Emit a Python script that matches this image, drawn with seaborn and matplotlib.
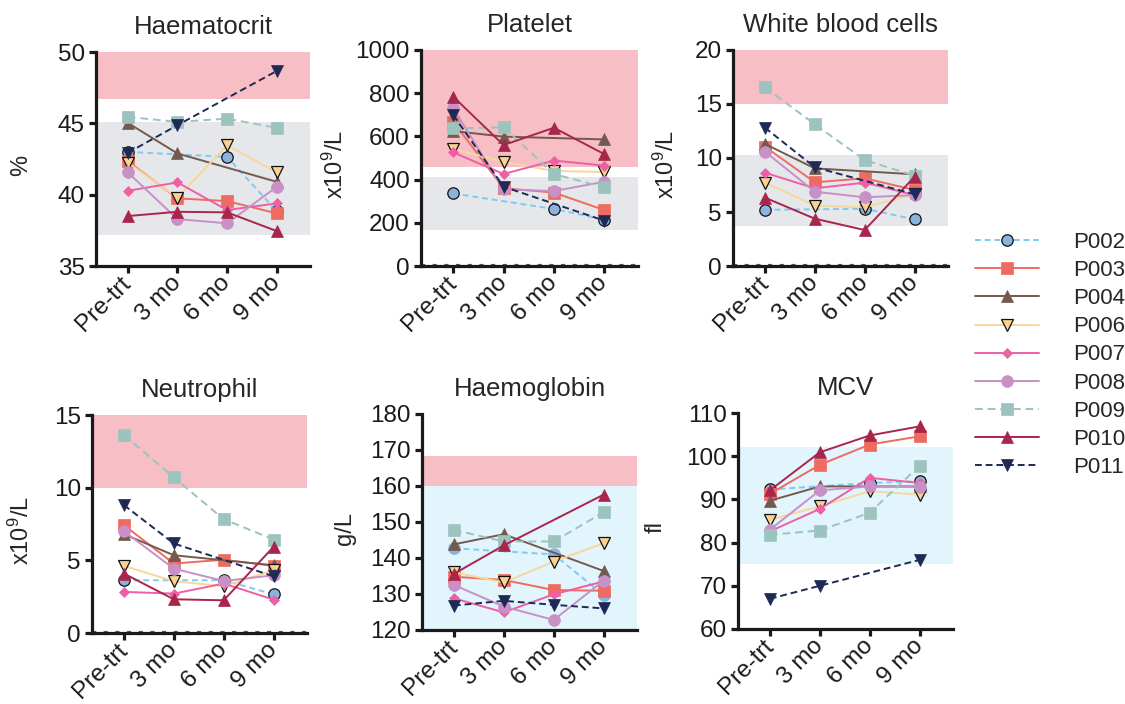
import numpy as np
import pandas as pd
import matplotlib
matplotlib.use("Agg")
import matplotlib.pyplot as plt
import seaborn as sns

nan = np.nan

timepoints = ["Pre-trt", "3 mo", "6 mo", "9 mo"]
patients = ["P002", "P003", "P004", "P006", "P007", "P008", "P009", "P010", "P011"]

# values per patient (rows follow `patients`), columns follow `timepoints`
haematocrit = [
    [43.0, nan, 42.65, 38.85],
    [42.35, 39.74, 39.55, 38.69],
    [45.03, 42.89, nan, 40.9],
    [42.25, 39.8, 43.47, 41.56],
    [40.27, 40.86, 38.92, 39.39],
    [41.56, 38.29, 37.99, 40.55],
    [45.45, 45.1, 45.33, 44.68],
    [38.5, 38.8, 38.76, 37.45],
    [42.93, 44.87, nan, 48.67],
]
platelet = [
    [336, nan, 264, 215],
    [668, 360, 340, 259],
    [625, 599, nan, 586],
    [542, 483, 440, 435],
    [526, 426, 488, 465],
    [730, 355, 347, 390],
    [637, 642, 426, 364],
    [784, 560, 640, 518],
    [699, 367, nan, 210],
]
white_blood_cells = [
    [5.2, nan, 5.3, 4.32],
    [11.05, 7.75, 8.12, 7.04],
    [11.3, 9.04, nan, 8.49],
    [7.72, 5.59, 5.43, 6.64],
    [8.64, 7.19, 7.72, 6.57],
    [10.59, 6.88, 6.36, 6.57],
    [16.54, 13.12, 9.81, 8.36],
    [6.33, 4.38, 3.33, 8.27],
    [12.81, 9.14, nan, 6.64],
]
neutrophil = [
    [3.63, nan, 3.63, 2.66],
    [7.42, 4.78, 5.04, 4.62],
    [6.8, 5.35, nan, 4.66],
    [4.62, 3.56, 3.22, 4.32],
    [2.83, 2.71, 3.4, 2.3],
    [7.0, 4.43, 3.58, 3.97],
    [13.62, 10.71, 7.83, 6.43],
    [4.09, 2.32, 2.25, 5.93],
    [8.8, 6.16, nan, 3.9],
]
haemoglobin = [
    [142.7, nan, 141.0, 129.7],
    [134.8, 133.9, 131.1, 130.9],
    [143.8, 146.6, nan, 136.4],
    [136.0, 133.2, 139.0, 144.1],
    [128.8, 124.9, 129.9, 133.5],
    [132.5, 126.5, 122.8, 133.7],
    [147.8, 144.6, 144.6, 152.7],
    [135.6, 143.5, nan, 157.6],
    [126.8, 128.1, 127.0, 126.0],
]
mcv = [
    [92.3, nan, 93.8, 94.2],
    [91.3, 98.0, 102.7, 104.6],
    [89.7, 93.0, nan, 93.0],
    [85.3, 88.4, 91.9, 91.1],
    [82.6, 87.8, 95.0, 93.8],
    [83.0, 92.1, 93.0, 92.9],
    [81.8, 82.8, 86.9, 97.8],
    [92.1, 100.9, 104.8, 106.9],
    [67.0, 70.0, nan, 76.0],
]

panel_titles = ["Haematocrit", "Platelet", "White blood cells",
                "Neutrophil", "Haemoglobin", "MCV"]
panel_values = [haematocrit, platelet, white_blood_cells,
                neutrophil, haemoglobin, mcv]
panel_units = ["%", r"x10$\mathregular{^9}$/L", r"x10$\mathregular{^9}$/L",
               r"x10$\mathregular{^9}$/L", "g/L", "fl"]
panel_ylims = [(35, 50), (0, 1000), (0, 20), (0, 15), (120, 180), (60, 110)]
panel_ysteps = [5, 200, 5, 5, 10, 10]
# reference ranges: (low, high, kind)
panel_bands = [
    [(46.7, 50, "high"), (37.2, 45.1, "grey")],
    [(460, 1000, "high"), (165, 410, "grey")],
    [(15, 20, "high"), (3.7, 10.3, "grey")],
    [(10, 15, "high")],
    [(160, 168.3, "high"), (120, 160, "blue")],
    [(75, 102.2, "blue")],
]

# ---- long-form table ----
rows = []
for title, vals in zip(panel_titles, panel_values):
    for pid, series in zip(patients, vals):
        for ti, v in enumerate(series):
            rows.append({"panel": title, "patient": pid, "t": ti, "value": v})
df = pd.DataFrame(rows).dropna()

# ---- styles ----
line_colors = {"P002": "#7DCBEF", "P003": "#EE6B61", "P004": "#735A4E",
               "P006": "#F8D79A", "P007": "#EE5FA4", "P008": "#C790C6",
               "P009": "#9CC3BE", "P010": "#A8254C", "P011": "#1E2A54"}
face_colors = dict(line_colors, P002="#8CB3DD", P006="#FAD393")
edge_colors = dict(line_colors, P002="#111111", P006="#111111")
markers = {"P002": "o", "P003": "s", "P004": "^", "P006": "v", "P007": "D",
           "P008": "o", "P009": "s", "P010": "^", "P011": "v"}
msizes = {"P002": 8.2, "P003": 8.5, "P004": 8.5, "P006": 8.5, "P007": 5.5,
          "P008": 8.5, "P009": 8.5, "P010": 8.5, "P011": 8.5}
dashed = {"P002": (0, (3, 2)), "P009": (0, (4, 2.5)), "P011": (0, (3.5, 2))}
band_colors = {"high": "#F7BEC6", "grey": "#E6E7EB", "blue": "#E2F4FC"}

sns.set_theme(style="ticks")
plt.rcParams["font.family"] = ["Liberation Sans", "DejaVu Sans"]
plt.rcParams["mathtext.fontset"] = "custom"
plt.rcParams["mathtext.rm"] = "Liberation Sans"
plt.rcParams["mathtext.it"] = "Liberation Sans:italic"
plt.rcParams["mathtext.bf"] = "Liberation Sans:bold"

fig = plt.figure(figsize=(11.25, 7.04), dpi=100)

W, H = 1125, 704
rects_px = [(96, 52, 310, 266), (421, 50, 638, 266), (733, 50, 948, 266),
            (92, 415, 307, 633), (422, 414, 637, 630), (738, 413, 953, 629)]
label_x = [-0.30, -0.335, -0.25, -0.27, -0.305, -0.33]

axes = []
for k, title in enumerate(panel_titles):
    l, t, r, b = rects_px[k]
    ax = fig.add_axes([l / W, 1 - b / H, (r - l) / W, (b - t) / H])
    axes.append(ax)
    for lo, hi, kind in panel_bands[k]:
        ax.axhspan(lo, hi, color=band_colors[kind], lw=0, zorder=0)
    if panel_ylims[k][0] == 0:
        ax.axhline(0, color="#555555", lw=3.0, ls=(0, (1.0, 1.8)), zorder=1,
                   clip_on=False)
    sub_panel = df[df["panel"] == title]
    for i, pid in enumerate(patients):
        sub = sub_panel[sub_panel["patient"] == pid]
        ec = edge_colors[pid]
        if title == "Haemoglobin" and pid == "P002":
            ec = face_colors[pid]
        sns.lineplot(data=sub, x="t", y="value", ax=ax, errorbar=None,
                     legend=False, color=line_colors[pid],
                     linestyle=dashed.get(pid, "-"), linewidth=1.4,
                     marker=markers[pid], markersize=msizes[pid],
                     markerfacecolor=face_colors[pid],
                     markeredgecolor=ec,
                     markeredgewidth=0.9 if pid in ("P002", "P006") else 0.5,
                     label=pid, zorder=3 + i, clip_on=False)
    lo, hi = panel_ylims[k]
    ax.set_ylim(lo, hi)
    ax.set_yticks(np.arange(lo, hi + 0.001, panel_ysteps[k]))
    ax.set_xlim(-0.64, 3.67)
    ax.set_xticks(range(len(timepoints)))
    ax.set_xticklabels(timepoints, rotation=45, ha="right", va="center",
                       rotation_mode="anchor")
    ax.set_xlabel("")
    ax.set_ylabel(panel_units[k], fontsize=17)
    ax.yaxis.set_label_coords(label_x[k], 0.47)
    ax.set_title(title, fontsize=18.5, pad=13)
    sns.despine(ax=ax)
    for s in ("left", "bottom"):
        ax.spines[s].set_linewidth(2.3)
        ax.spines[s].set_color("#1a1a1a")
        ax.spines[s].set_zorder(2)
    ax.tick_params(axis="both", direction="out", length=5, width=2.3,
                   color="#1a1a1a", pad=3, labelcolor="#1a1a1a")
    ax.tick_params(axis="y", labelsize=17.5)
    ax.tick_params(axis="x", labelsize=17.5, pad=5)
    ax.set_facecolor("none")

handles, labels = axes[0].get_legend_handles_labels()
fig.legend(handles, labels, loc="upper left",
           bbox_to_anchor=(975 / W, 1 - 232 / H), frameon=False,
           fontsize=16, handlelength=2.9, handletextpad=1.5,
           labelspacing=0.32, borderpad=0, borderaxespad=0)

fig.savefig("out.png", dpi=100)
